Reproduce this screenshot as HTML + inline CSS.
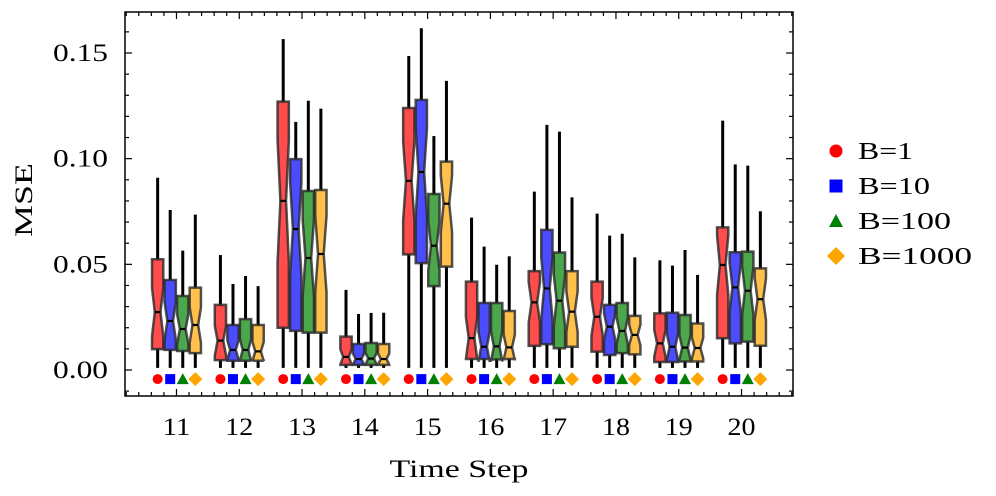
<!DOCTYPE html>
<html><head><meta charset="utf-8"><style>
html,body{margin:0;padding:0;background:#fff;}
svg{display:block;font-family:"Liberation Serif",serif;}
</style></head><body>
<svg id="chart" width="996" height="496" viewBox="0 0 996 496" xmlns="http://www.w3.org/2000/svg">
<g id="plot"></g>
</svg>
<script>
const categories = [11,12,13,14,15,16,17,18,19,20];
const seriesNames = ["B=1","B=10","B=100","B=1000"];
const whiskerHigh = [
 [0.091,0.0544,0.1566,0.0379,0.1486,0.0721,0.0844,0.074,0.0519,0.118],
 [0.0757,0.0407,0.1174,0.0265,0.1617,0.0584,0.116,0.0636,0.0494,0.0973],
 [0.0565,0.0445,0.1274,0.027,0.1107,0.0498,0.1128,0.0645,0.0568,0.0967],
 [0.0735,0.0397,0.1237,0.0271,0.1368,0.0538,0.0817,0.0533,0.045,0.0751]];
const q3Values = [
 [0.0524,0.0308,0.127,0.0158,0.124,0.0418,0.0468,0.0418,0.0268,0.0675],
 [0.0426,0.0213,0.0998,0.0123,0.1278,0.0317,0.0663,0.0308,0.0271,0.0557],
 [0.035,0.0241,0.0847,0.0128,0.0833,0.0317,0.0556,0.0317,0.026,0.056],
 [0.039,0.0213,0.0852,0.0123,0.0986,0.0279,0.0468,0.0256,0.022,0.0481]];
const medianValues = [
 [0.0274,0.0139,0.08,0.0062,0.0895,0.0151,0.032,0.0252,0.0126,0.0497],
 [0.0232,0.0095,0.0667,0.0052,0.0937,0.011,0.0386,0.0205,0.011,0.0391],
 [0.0194,0.0095,0.053,0.0054,0.0588,0.0112,0.0328,0.0185,0.0106,0.0375],
 [0.0213,0.0088,0.0549,0.0052,0.0787,0.0107,0.0276,0.0166,0.0104,0.0335]];
const q1Values = [
 [0.0099,0.0047,0.02,0.0024,0.0547,0.0052,0.0114,0.0087,0.0038,0.015],
 [0.0095,0.0044,0.0185,0.0024,0.0506,0.0052,0.0122,0.0071,0.0038,0.0126],
 [0.009,0.0044,0.0177,0.0024,0.0397,0.005,0.0103,0.008,0.004,0.0134],
 [0.008,0.0044,0.0177,0.0024,0.0489,0.0052,0.011,0.0074,0.004,0.0115]];
const whiskerLow = [
 [0.001,0.001,0.001,0.001,0.001,0.001,0.001,0.001,0.001,0.001],
 [0.001,0.001,0.001,0.001,0.001,0.001,0.001,0.001,0.001,0.001],
 [0.001,0.001,0.001,0.001,0.001,0.001,0.001,0.001,0.001,0.001],
 [0.001,0.001,0.001,0.001,0.001,0.001,0.001,0.001,0.001,0.001]];
const markerValue = -0.0043;
const yTicks = [0,0.05,0.1,0.15];
const yTickLabels = ["0.00","0.05","0.10","0.15"];

const NS="http://www.w3.org/2000/svg";
const L=125,R=793,T=12,B=396;
const xMin=10.18,xMax=20.82,yMin=-0.0123,yMax=0.1694;
const x=v=>L+(v-xMin)/(xMax-xMin)*(R-L);
const y=v=>B-(v-yMin)/(yMax-yMin)*(B-T);
const fills=["rgba(255,0,0,0.7)","rgba(0,0,255,0.7)","rgba(0,128,0,0.7)","rgba(255,165,0,0.7)"];
const solid=["#ff0000","#0000ff","#008000","#ffa500"];
const offsets=[-0.3,-0.1,0.1,0.3];
const plot=document.getElementById('plot');
function mk(tag,attrs,parent){const e=document.createElementNS(NS,tag);for(const k in attrs)e.setAttribute(k,attrs[k]);(parent||plot).appendChild(e);return e;}

for(let s=0;s<4;s++){
 const g=mk('g',{});
 
 
 categories.forEach((c,i)=>{
  const cx=x(c+offsets[s]);
  const hw=(x(0.09)-x(0));
  const q1=q1Values[s][i],q3=q3Values[s][i],md=medianValues[s][i];
  const iqr=q3-q1;const nlo=md-0.27*iqr,nhi=md+0.27*iqr;
  const wl=mk('line',{x1:cx,x2:cx,y1:y(q3),y2:y(whiskerHigh[s][i]),stroke:'#000','stroke-width':3},g);
  
  
  const wl2=mk('line',{x1:cx,x2:cx,y1:y(q1),y2:y(whiskerLow[s][i]),stroke:'#000','stroke-width':3},g);
  
  
  const l=cx-hw,r=cx+hw,il=cx-hw/2,ir=cx+hw/2;
  const d=`M${l},${y(q1)}L${r},${y(q1)}L${r},${y(nlo)}L${ir},${y(md)}L${r},${y(nhi)}L${r},${y(q3)}L${l},${y(q3)}L${l},${y(nhi)}L${il},${y(md)}L${l},${y(nlo)}Z`;
  const p=mk('path',{d:d,fill:fills[s],stroke:'rgba(40,40,40,0.8)','stroke-width':2.5,'stroke-linejoin':'miter'},g);
  
  
  const m=mk('line',{x1:il,x2:ir,y1:y(md),y2:y(md),stroke:'#000','stroke-width':2.2},g);
  
  
  const my=y(markerValue);let mkEl;
  if(s===0) mkEl=mk('circle',{cx:cx,cy:my,r:5,fill:solid[s]},g);
  else if(s===1) mkEl=mk('rect',{x:cx-5,y:my-5,width:10,height:10,fill:solid[s]},g);
  else if(s===2) mkEl=mk('polygon',{points:`${cx},${my-6} ${cx+6},${my+5} ${cx-6},${my+5}`,fill:solid[s]},g);
  else mkEl=mk('polygon',{points:`${cx},${my-7} ${cx+7},${my} ${cx},${my+7} ${cx-7},${my}`,fill:solid[s]},g);
  
  
 });
}

const fr=mk('rect',{x:L,y:T,width:R-L,height:B-T,fill:'none',stroke:'#000','stroke-width':1.5});


const ax=mk('g',{stroke:'#000','stroke-width':1.2});


for(let k=-1;k<=16;k++){const v=k*0.01;const yy=y(v);if(yy<T||yy>B)continue;const major=(k%5===0);const len=major?7:4;
 mk('line',{x1:L,x2:L+len,y1:yy,y2:yy},ax);mk('line',{x1:R,x2:R-len,y1:yy,y2:yy},ax);}
yTicks.forEach((v,i)=>{const t=mk('text',{x:L-17,y:y(v)+8,'text-anchor':'end','font-size':25,fill:'#000',textLength:55,lengthAdjust:'spacingAndGlyphs'});t.textContent=yTickLabels[i];
 
 });
for(let k=Math.ceil(xMin*5);k<=Math.floor(xMax*5);k++){const v=k/5;const xx=x(v);const major=(k%5===0);const len=major?7:4;
 mk('line',{x1:xx,x2:xx,y1:B,y2:B-len},ax);mk('line',{x1:xx,x2:xx,y1:T,y2:T+len},ax);}
categories.forEach(c=>{const t=mk('text',{x:x(c),y:B+39,'text-anchor':'middle','font-size':25,fill:'#000',textLength:28,lengthAdjust:'spacingAndGlyphs'});t.textContent=c;
 
 });
const xt=mk('text',{x:(L+R)/2,y:477,'text-anchor':'middle','font-size':25,fill:'#000',textLength:139,lengthAdjust:'spacingAndGlyphs'});xt.textContent='Time Step';


const yt=mk('text',{x:0,y:0,transform:`translate(32,200) rotate(-90)`,'text-anchor':'middle','font-size':25,fill:'#000',textLength:74,lengthAdjust:'spacingAndGlyphs'});yt.textContent='MSE';



const lg=mk('g',{});


const ly=[151,186,221,256];
const lw=[55,72,93,114];
seriesNames.forEach((n,s)=>{const cx=836,cy=ly[s];let e;
 if(s===0)e=mk('circle',{cx:cx,cy:cy,r:6.5,fill:solid[s]},lg);
 else if(s===1)e=mk('rect',{x:cx-6.5,y:cy-6.5,width:13,height:13,fill:solid[s]},lg);
 else if(s===2)e=mk('polygon',{points:`${cx},${cy-7} ${cx+7},${cy+6} ${cx-7},${cy+6}`,fill:solid[s]},lg);
 else e=mk('polygon',{points:`${cx},${cy-9} ${cx+9},${cy} ${cx},${cy+9} ${cx-9},${cy}`,fill:solid[s]},lg);
 
 
 const t=mk('text',{x:858,y:cy+8,'font-size':24,fill:'#000',textLength:lw[s],lengthAdjust:'spacingAndGlyphs'},lg);t.textContent=n;
 
 
});
</script>
</body></html>
